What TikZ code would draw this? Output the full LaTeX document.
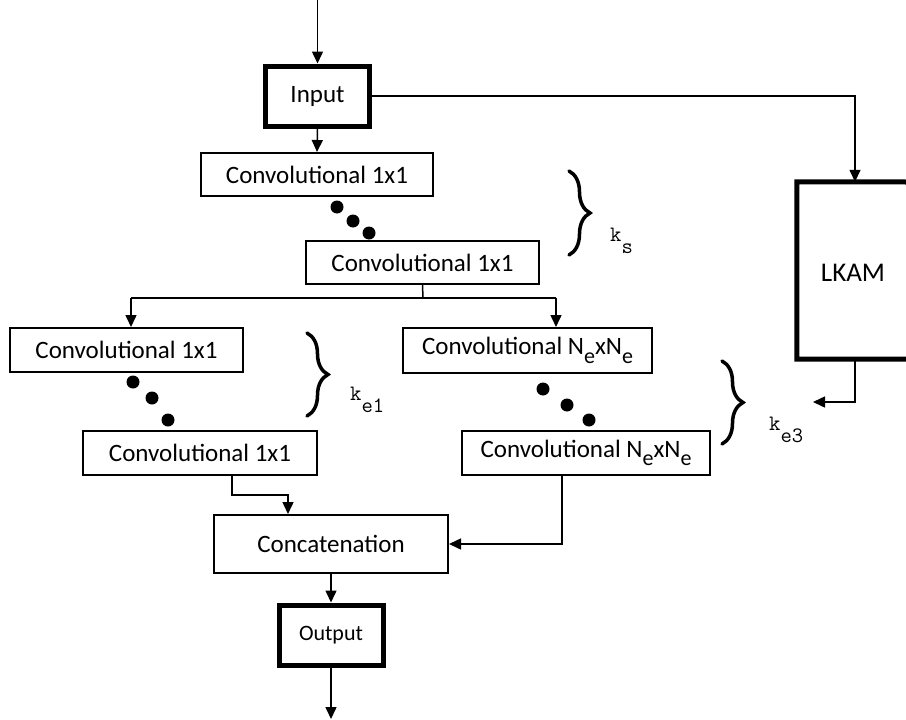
\documentclass[tikz,border=0pt]{standalone}
\usepackage{fontspec}
\setmainfont{Carlito}
\usetikzlibrary{arrows.meta,decorations.pathreplacing,calc}
\newcommand{\subE}{\raisebox{-0.34em}{\fontsize{22}{22}\selectfont e}}
\newcommand{\klab}[1]{{\ttfamily\fontsize{22}{22}\selectfont k\raisebox{-12pt}{#1}}}
\begin{document}
\begin{tikzpicture}[x=1pt,y=-1pt,
  box/.style={draw, line width=2pt, inner sep=0pt, fill=white,
    font=\fontsize{25}{30}\selectfont},
  iobox/.style={box, line width=5pt},
  conn/.style={line width=1.5pt},
  arr/.style={conn, -{Triangle[length=12pt,width=11pt]}},
  dot/.style={fill=black},
  bracestyle/.style={line width=3.5pt, line cap=round, decorate,
    decoration={brace, amplitude=21pt}},
  klabel/.style={anchor=base west, inner sep=0pt}]
\useasboundingbox (0,0) rectangle (906,720);

% nodes
\node[iobox, minimum width=104, minimum height=60] (input) at (317.5,96) {Input};
\node[box, minimum width=232, minimum height=43] (conv1) at (317,174.5) {Convolutional 1x1};
\node[box, minimum width=233, minimum height=43] (conv2) at (422.5,262.5) {Convolutional 1x1};
\node[box, minimum width=233, minimum height=44] (convA) at (126.5,350) {Convolutional 1x1};
\node[box, minimum width=234, minimum height=44] (convB) at (200,453) {Convolutional 1x1};
\node[box, minimum width=249, minimum height=45] (convC) at (527.5,350.5) {Convolutional N\subE xN\subE};
\node[box, minimum width=248, minimum height=44] (convD) at (586,453) {Convolutional N\subE xN\subE};
\node[box, minimum width=234, minimum height=58] (concat) at (331,544) {Concatenation};
\node[iobox, minimum width=104, minimum height=60, font=\fontsize{22}{26}\selectfont] (output) at (331,635) {Output};
\node[minimum width=116, minimum height=177, inner sep=0pt] (lkam) at (855,270.5) {};
\node[font=\fontsize{27}{32}\selectfont] (lkamtxt) at (853,273) {LKAM};
\draw[line width=5pt, line join=miter] (906,182) -- (lkam.north west) -- (lkam.south west) -- (906,359);

% coordinates
\coordinate (top) at (317.5,0);
\coordinate (br) at (423,298);
\coordinate (brL) at (131,298);
\coordinate (brR) at (556,298);
\coordinate (bl) at (232,0);
\coordinate (cl) at (288,0);
\coordinate (dr) at (562,0);
\coordinate (lkout) at (813,402);
\coordinate (outend) at (331,719);

% connectors
\draw[arr] (top) -- (input.north);
\draw[arr] (input.south) -- (conv1.north);
\draw[arr] (input.east) -| (lkam.north);
\draw[arr] (lkam.south) |- (lkout);
\draw[conn] (conv2.south) -- (br);
\draw[conn] (brL) -- (brR);
\draw[arr] (brL) -- (brL |- convA.north);
\draw[arr] (brR) -- (brR |- convC.north);
\draw[arr] (convB.south -| bl) -- ++(0,19) -| (concat.north -| cl);
\draw[arr] (convD.south -| dr) |- (concat.east);
\draw[arr] (concat.south) -- (output.north);
\draw[arr] (output.south) -- (outend);

% dots
\fill[dot] (337,207) circle (6.5);
\fill[dot] (353,221) circle (6.5);
\fill[dot] (369,233) circle (6.5);
\fill[dot] (133,382) circle (6.5);
\fill[dot] (152,398) circle (6.5);
\fill[dot] (168,420) circle (6.5);
\fill[dot] (543,389) circle (6.5);
\fill[dot] (567,405) circle (6.5);
\fill[dot] (589,420) circle (6.5);

% braces
\draw[bracestyle] (569,171) -- (569,255);
\draw[bracestyle] (307,333) -- (307,416);
\draw[bracestyle] (722,361) -- (722,444);

% labels
\node[klabel] (ks) at (610,241) {\klab{s}};
\node[klabel] (ke1) at (350,400) {\klab{e1}};
\node[klabel] (ke3) at (769,430) {\klab{e3}};
\end{tikzpicture}
\end{document}
